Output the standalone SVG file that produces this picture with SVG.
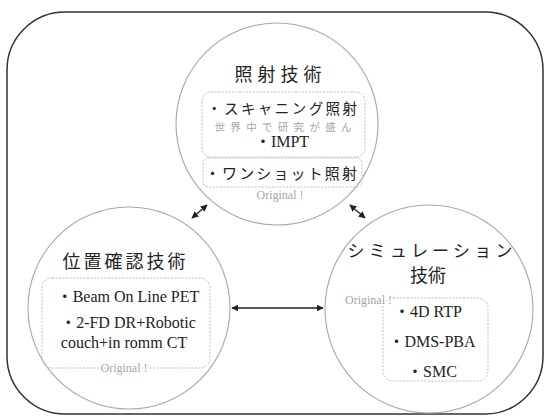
<svg xmlns="http://www.w3.org/2000/svg" width="544" height="416" viewBox="0 0 544 416">
<defs>
<style>
.frame{fill:none;stroke:#333;stroke-width:1.5}
.circ{fill:none;stroke:#a8a8a8;stroke-width:1.1}
.box{fill:none;stroke:#bdbdbd;stroke-width:1;stroke-dasharray:2 1.5}
.jp{font-family:"Noto Sans CJK JP","Noto Sans CJK SC",sans-serif;fill:#222}
.lt{font-family:"Liberation Serif","Noto Sans CJK JP",serif;fill:#222}
.gray{fill:#a6a6a6}
.orig{font-family:"Liberation Serif",serif;fill:#a6a6a6;font-size:12px;stroke:#fff;stroke-width:3;paint-order:stroke}
.conn{stroke:#222;stroke-width:1.3;fill:none;marker-start:url(#ah);marker-end:url(#ah)}
</style>
<marker id="ah" viewBox="0 0 10 10" refX="9" refY="5" markerWidth="7" markerHeight="7" orient="auto-start-reverse" markerUnits="userSpaceOnUse">
<path d="M0,0 L10,5 L0,10 z" fill="#222"/>
</marker>
</defs>
<rect class="frame" x="7" y="12" width="536" height="402" rx="58" ry="58"/>

<g id="node-shosha">
<circle class="circ" cx="277" cy="124" r="101"/>
<text class="jp" x="278" y="81" font-size="18" text-anchor="middle" textLength="87" lengthAdjust="spacing">照射技術</text>
<rect class="box" x="202" y="92" width="163" height="65" rx="9"/>
<text class="jp" x="282" y="114" font-size="14.5" text-anchor="middle" textLength="150" lengthAdjust="spacing">・スキャニング照射</text>
<text class="jp gray" x="283" y="131" font-size="10.5" text-anchor="middle" textLength="137" lengthAdjust="spacing">世界中で研究が盛ん</text>
<text class="lt" x="282" y="147" font-size="16" text-anchor="middle">・IMPT</text>
<rect class="box" x="203" y="158" width="159" height="29" rx="5"/>
<text class="jp" x="281" y="179" font-size="15" text-anchor="middle" textLength="152" lengthAdjust="spacing">・ワンショット照射</text>
<text class="orig" x="280" y="199" text-anchor="middle" font-size="13">Original !</text>
</g>

<g id="node-ichi">
<circle class="circ" cx="129" cy="308" r="101"/>
<text class="jp" x="124" y="268" font-size="18" text-anchor="middle" textLength="123" lengthAdjust="spacing">位置確認技術</text>
<rect class="box" x="42" y="278" width="168" height="90" rx="10"/>
<text class="lt" x="128" y="302" font-size="16" text-anchor="middle">・Beam On Line PET</text>
<text class="lt" x="128" y="328" font-size="16" text-anchor="middle">・2-FD DR+Robotic</text>
<text class="lt" x="124" y="348" font-size="16" text-anchor="middle">couch+in romm CT</text>
<text class="orig" x="124" y="372" text-anchor="middle">Original !</text>
</g>

<g id="node-sim">
<circle class="circ" cx="429" cy="309" r="104"/>
<text class="jp" x="430" y="257" font-size="17" text-anchor="middle" textLength="165" lengthAdjust="spacing">シミュレーション</text>
<text class="jp" x="428" y="282" font-size="18" text-anchor="middle">技術</text>
<rect class="box" x="383" y="298" width="105" height="83" rx="10"/>
<text class="orig" x="345" y="304">Original !</text>
<text class="lt" x="428" y="317" font-size="16" text-anchor="middle">・4D RTP</text>
<text class="lt" x="432" y="347" font-size="16" text-anchor="middle">・DMS-PBA</text>
<text class="lt" x="432" y="377" font-size="16" text-anchor="middle">・SMC</text>
</g>

<g id="connectors">
<line class="conn" x1="192" y1="218" x2="207" y2="205"/>
<line class="conn" x1="350" y1="205" x2="365" y2="218"/>
<line class="conn" x1="232" y1="308" x2="323" y2="308"/>
</g>
</svg>
